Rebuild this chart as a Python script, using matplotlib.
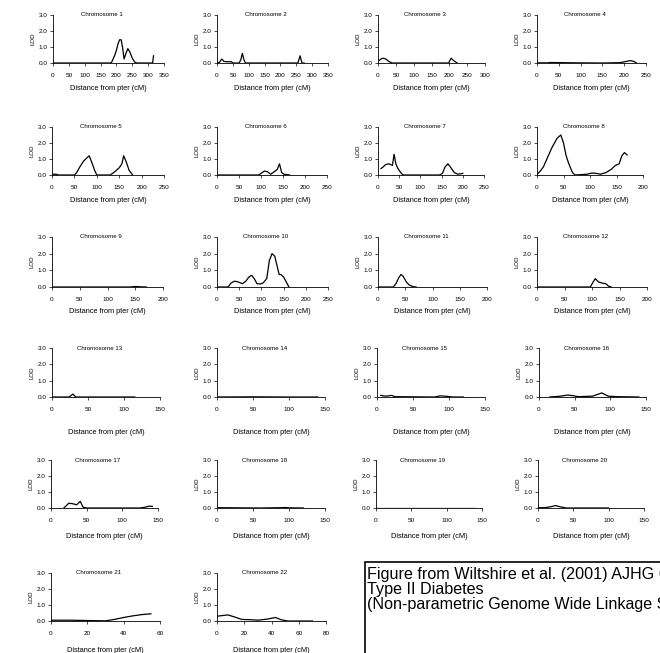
import numpy as np
import matplotlib
matplotlib.use("Agg")
import matplotlib.pyplot as plt
from matplotlib.patches import Rectangle

plt.rcParams['font.family'] = ['Liberation Sans', 'DejaVu Sans']

# LOD score traces (cM, LOD)
ch1_pos = [0, 180, 185, 195, 200, 205, 210, 215, 220, 224, 230, 236, 242, 250, 258, 265, 312, 314, 317]
ch1_lod = [0, 0, 0.05, 0.5, 0.8, 1.2, 1.45, 1.45, 0.9, 0.25, 0.6, 0.9, 0.7, 0.3, 0.05, 0, 0, 0, 0.45]
ch2_pos = [0, 8, 15, 22, 30, 45, 50, 70, 75, 80, 85, 90, 255, 262, 268, 275]
ch2_lod = [0, 0.05, 0.25, 0.1, 0.08, 0.08, 0, 0, 0.2, 0.6, 0.2, 0, 0, 0.45, 0, 0]
ch3_pos = [3, 8, 15, 22, 30, 40, 198, 205, 212, 222]
ch3_lod = [0.15, 0.25, 0.3, 0.25, 0.1, 0, 0, 0.3, 0.15, 0]
ch4_pos = [0, 25, 30, 90, 150, 190, 205, 215, 222, 228]
ch4_lod = [0.01, 0.01, 0.03, 0.01, 0, 0.02, 0.1, 0.15, 0.1, 0]
ch5_pos = [0, 5, 10, 15, 50, 55, 62, 70, 77, 83, 90, 95, 100, 130, 140, 150, 156, 160, 166, 172, 180]
ch5_lod = [0.05, 0.05, 0.04, 0, 0, 0.15, 0.5, 0.85, 1.05, 1.2, 0.7, 0.3, 0, 0, 0.2, 0.45, 0.7, 1.2, 0.8, 0.3, 0]
ch6_pos = [0, 95, 100, 108, 115, 122, 130, 137, 142, 147, 152, 165]
ch6_lod = [0, 0, 0.1, 0.25, 0.2, 0.05, 0.2, 0.35, 0.7, 0.15, 0.05, 0]
ch7_pos = [7, 12, 18, 25, 30, 34, 38, 42, 47, 55, 60, 145, 152, 158, 165, 172, 180, 188, 195, 200]
ch7_lod = [0.4, 0.5, 0.65, 0.7, 0.65, 0.6, 1.3, 0.7, 0.4, 0.1, 0, 0, 0.1, 0.5, 0.7, 0.45, 0.15, 0.05, 0.08, 0.1]
ch8_pos = [0, 5, 12, 20, 28, 33, 38, 45, 50, 55, 60, 67, 72, 95, 100, 105, 112, 120, 130, 140, 148, 155, 160, 165, 170]
ch8_lod = [0.05, 0.2, 0.5, 1.1, 1.7, 2.0, 2.3, 2.5, 2.0, 1.2, 0.7, 0.15, 0, 0.05, 0.1, 0.12, 0.1, 0.05, 0.15, 0.35, 0.6, 0.7, 1.2, 1.4, 1.25]
ch9_pos = [0, 100, 140, 150, 160, 170]
ch9_lod = [0, 0, 0, 0.03, 0.01, 0]
ch10_pos = [0, 25, 32, 40, 48, 57, 65, 72, 78, 84, 90, 98, 104, 112, 118, 124, 130, 135, 140, 144, 150, 156, 162]
ch10_lod = [0, 0, 0.25, 0.35, 0.3, 0.2, 0.35, 0.6, 0.7, 0.5, 0.2, 0.18, 0.25, 0.5, 1.6, 2.0, 1.85, 1.3, 0.75, 0.75, 0.6, 0.3, 0]
ch11_pos = [0, 28, 33, 38, 42, 46, 52, 58, 65, 70]
ch11_lod = [0, 0, 0.2, 0.55, 0.75, 0.65, 0.3, 0.1, 0.02, 0]
ch12_pos = [0, 97, 102, 106, 112, 120, 125, 130, 135]
ch12_lod = [0, 0, 0.3, 0.5, 0.3, 0.22, 0.2, 0.05, 0]
ch13_pos = [0, 24, 29, 33, 115]
ch13_lod = [0, 0, 0.18, 0, 0]
ch14_pos = [0, 50, 100, 140]
ch14_lod = [0, 0.01, 0, 0]
ch15_pos = [5, 10, 15, 20, 25, 80, 88, 95, 105, 120]
ch15_lod = [0.1, 0.06, 0.06, 0.1, 0.02, 0, 0.07, 0.05, 0, 0]
ch16_pos = [15, 30, 40, 48, 55, 75, 88, 97, 110, 140]
ch16_lod = [0, 0.05, 0.12, 0.08, 0.02, 0.05, 0.25, 0.05, 0.02, 0]
ch17_pos = [18, 25, 30, 36, 41, 45, 50, 125, 132, 138, 142]
ch17_lod = [0, 0.3, 0.27, 0.2, 0.42, 0.05, 0, 0, 0.05, 0.12, 0.1]
ch18_pos = [0, 30, 60, 90, 95, 100, 120]
ch18_lod = [0.02, 0.01, 0, 0.02, 0.03, 0.01, 0]
ch19_pos = [0, 140]
ch19_lod = [0, 0]
ch20_pos = [0, 10, 18, 25, 32, 40, 100]
ch20_lod = [0.02, 0.02, 0.08, 0.15, 0.07, 0, 0]
ch21_pos = [0, 10, 20, 30, 35, 40, 45, 50, 55]
ch21_lod = [0.05, 0.05, 0.03, 0.01, 0.1, 0.22, 0.32, 0.4, 0.45]
ch22_pos = [0, 8, 13, 18, 25, 30, 37, 43, 47, 52, 60, 70]
ch22_lod = [0.3, 0.38, 0.25, 0.1, 0.08, 0.05, 0.12, 0.22, 0.08, 0, 0, 0]

positions = [ch1_pos, ch2_pos, ch3_pos, ch4_pos, ch5_pos, ch6_pos, ch7_pos, ch8_pos,
             ch9_pos, ch10_pos, ch11_pos, ch12_pos, ch13_pos, ch14_pos, ch15_pos,
             ch16_pos, ch17_pos, ch18_pos, ch19_pos, ch20_pos, ch21_pos, ch22_pos]
lods = [ch1_lod, ch2_lod, ch3_lod, ch4_lod, ch5_lod, ch6_lod, ch7_lod, ch8_lod,
        ch9_lod, ch10_lod, ch11_lod, ch12_lod, ch13_lod, ch14_lod, ch15_lod,
        ch16_lod, ch17_lod, ch18_lod, ch19_lod, ch20_lod, ch21_lod, ch22_lod]

# x-axis extent and tick step per chromosome
x_max = [350, 350, 300, 250, 250, 250, 250, 200, 200, 250, 200, 200,
         150, 150, 150, 150, 150, 150, 150, 150, 60, 80]
x_step = [50] * 20 + [20, 20]
y_ticks = [0.0, 1.0, 2.0, 3.0]

caption = ("Figure from Wiltshire et al. (2001) AJHG 69:553-569\n"
           "Type II Diabetes\n"
           "(Non-parametric Genome Wide Linkage Scan)")

W, H = 660, 653
# axes boxes in pixels: left, right, top (LOD 3), bottom (LOD 0)
boxes = [
    (53, 164, 15, 63), (217, 328, 15, 63), (378, 485, 15, 63), (537, 646, 15, 63),
    (52, 164, 127, 175), (217, 327, 127, 175), (378, 484, 127, 175), (537, 643, 127, 175),
    (52, 163, 237, 287), (217, 328, 237, 287), (378, 487, 237, 287), (537, 647, 237, 287),
    (52, 160, 348, 397), (217, 325, 348, 397), (377, 485, 348, 397), (539, 646, 348, 397),
    (51, 158, 460, 508), (217, 325, 460, 508), (376, 482, 460, 508), (538, 644, 460, 508),
    (51, 160, 573, 621), (217, 326, 573, 621),
]
label_gap = [26, 26, 26, 26, 26, 26, 26, 26, 25, 25, 25, 25,
             36, 36, 36, 36, 29, 29, 29, 29, 29, 29]

fig = plt.figure(figsize=(W / 100, H / 100), dpi=100)

for i, (l, r, t, b) in enumerate(boxes):
    ax = fig.add_axes([l / W, 1 - b / H, (r - l) / W, (b - t) / H])
    ax.plot(positions[i], lods[i], color="black", lw=0.9)
    ax.set_xlim(0, x_max[i])
    ax.set_ylim(0, 3)
    ax.set_xticks(np.arange(0, x_max[i] + 1, x_step[i]))
    ax.set_yticks(y_ticks)
    ax.set_yticklabels([f"{v:.1f}" for v in y_ticks])
    for side in ["top", "right"]:
        ax.spines[side].set_visible(False)
    for side in ["left", "bottom"]:
        ax.spines[side].set_linewidth(0.6)
    ax.tick_params(axis="x", length=2, width=0.5, pad=5.5, labelsize=4.6)
    ax.tick_params(axis="y", length=2.5, width=0.5, pad=1.5, labelsize=4.6)
    ax.set_ylabel("LOD", fontsize=4.4, labelpad=2)
    ax.text(0.44, 1.0, f"Chromosome {i + 1}", transform=ax.transAxes,
            ha="center", va="center", fontsize=4.4)
    fig.text((l + r) / 2 / W, 1 - (b + label_gap[i]) / H, "Distance from pter (cM)",
             ha="center", va="center", fontsize=5.3)

# caption box, running off the page edge as in the original
fig.patches.append(Rectangle((365 / W, -0.1), 1.0, 1 - 562 / H + 0.1,
                             transform=fig.transFigure, fill=False,
                             edgecolor="black", lw=1.2))
fig.text(367 / W, 1 - 567 / H, caption, ha="left", va="top",
         fontsize=11.6, linespacing=0.98)

fig.savefig("out.png", dpi=100)
